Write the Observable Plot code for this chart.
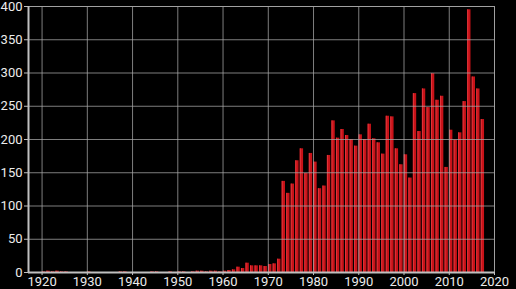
<!DOCTYPE html>
<html>
<head>
<meta charset="utf-8">
<script src="https://cdn.jsdelivr.net/npm/d3@7"></script>
<script src="https://cdn.jsdelivr.net/npm/@observablehq/plot@0.6"></script>
<style>
  html, body { margin: 0; padding: 0; background: #000; }
  #chart { width: 516px; height: 289px; overflow: hidden; }
</style>
</head>
<body>
<div id="chart"></div>
<script>
const years = d3.range(1920, 2018);
const counts = [
  1, 2, 1, 2, 1, 1, 0, 0, 0, 0,          // 1920s
  1, 0, 0, 0, 0, 0, 0, 1, 1, 0,          // 1930s
  0, 0, 0, 0, 1, 1, 0, 0, 1, 0,          // 1940s
  1, 1, 0, 1, 2, 2, 1, 2, 2, 1,          // 1950s
  2, 3, 4, 8, 6, 14, 10, 10, 10, 9,      // 1960s
  12, 13, 20, 137, 119, 133, 168, 186, 149, 179, // 1970s
  166, 126, 130, 176, 228, 202, 215, 206, 200, 190, // 1980s
  207, 200, 223, 201, 195, 178, 235, 234, 186, 162, // 1990s
  177, 142, 269, 212, 276, 248, 299, 259, 265, 158, // 2000s
  214, 199, 210, 257, 395, 294, 276, 230 // 2010s
];
const xTicks = [1920, 1930, 1940, 1950, 1960, 1970, 1980, 1990, 2000, 2010, 2020];
const yTicks = [0, 50, 100, 150, 200, 250, 300, 350, 400];

const data = years.map((y, i) => ({year: y, count: counts[i]}));

const chart = Plot.plot({
  width: 516,
  height: 289,
  marginLeft: 28,
  marginRight: 22,
  marginTop: 6,
  marginBottom: 17,
  style: {background: "#000", color: "#ececec", fontFamily: "Roboto, sans-serif", fontSize: "13px"},
  x: {domain: [1917, 2020], ticks: xTicks, tickFormat: d => String(d), tickSize: 3, tickPadding: 1, label: null},
  y: {domain: [0, 400], ticks: yTicks, tickSize: 4, tickPadding: 2, label: null},
  marks: [
    Plot.rectY(data, {x1: "year", x2: d => d.year + 1, y: "count", fill: "#c81218", insetLeft: 0.3, insetRight: 0.9}),
    Plot.rectY(data, {x1: "year", x2: d => d.year + 0.3, y: "count", fill: "#e0343a", insetLeft: 0.3}),
    Plot.gridX(xTicks, {stroke: "#a8a8a8", strokeOpacity: 0.75, strokeWidth: 1}),
    Plot.gridY(yTicks, {stroke: "#a8a8a8", strokeOpacity: 0.75, strokeWidth: 1}),
    Plot.frame({stroke: "#a0a0a0", strokeWidth: 1}),
    Plot.ruleX([1917], {stroke: "#c0c0c0", strokeWidth: 2}),
    Plot.ruleY([0], {stroke: "#c0c0c0", strokeWidth: 2}),
    Plot.axisX({ticks: xTicks, tickFormat: d => String(d), tickSize: 3, tickPadding: 1, stroke: "#c0c0c0", fill: "#ececec"}),
    Plot.axisY({ticks: yTicks, tickSize: 4, tickPadding: 2, stroke: "#c0c0c0", fill: "#ececec"})
  ]
});
document.getElementById("chart").appendChild(chart);
</script>
</body>
</html>
